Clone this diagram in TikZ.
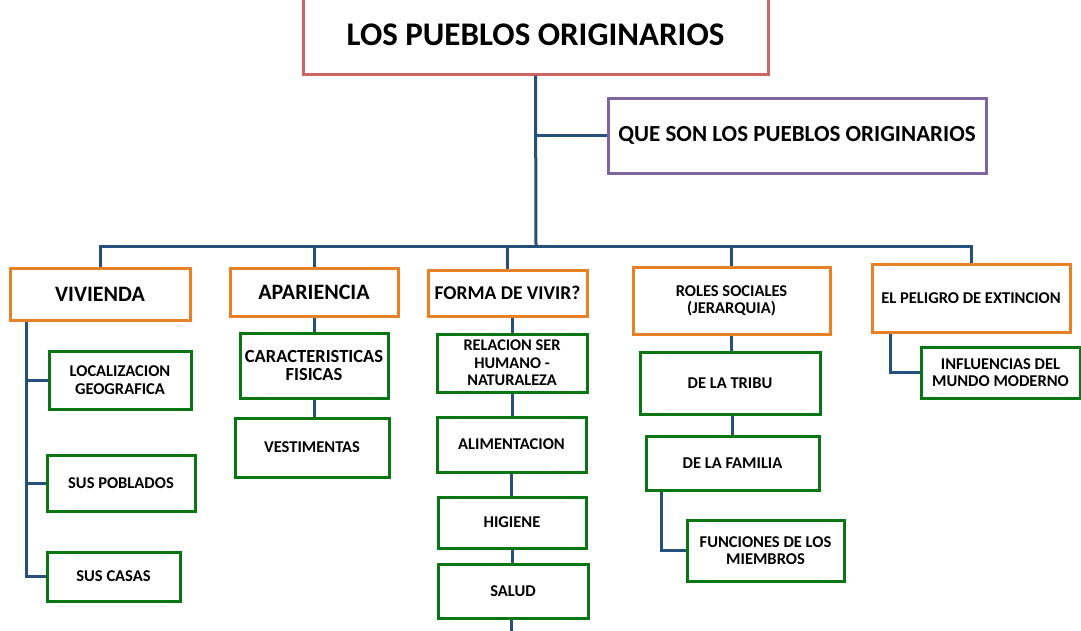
\documentclass[tikz,border=0pt]{standalone}
\usepackage{fontspec}
\setmainfont{Carlito}
\usepackage{tikz}

\definecolor{titlered}{RGB}{205,102,98}
\definecolor{quepurple}{RGB}{128,100,160}
\definecolor{toporange}{RGB}{232,128,38}
\definecolor{subgreen}{RGB}{8,118,18}
\definecolor{linkblue}{RGB}{38,80,124}

\begin{document}
\begin{tikzpicture}[
      x = 1pt, y = -1pt,
      every node/.style = {
        rectangle, draw, line width = 3pt, inner sep = 0pt, text = black,
        align = center, font = \bfseries\fontsize{16.5}{17.3}\selectfont},
      every path/.style = {linkblue, line width = 3pt},
      mainbox/.style = {draw = titlered, font = \bfseries\fontsize{33}{36}\selectfont},
      quebox/.style = {draw = quepurple, font = \bfseries\fontsize{23}{26}\selectfont},
      topicbox/.style = {draw = toporange},
      itembox/.style = {draw = subgreen}
      ]
    \useasboundingbox (0,0) rectangle (1081,630);

    \node[mainbox, minimum width = 465pt, minimum height = 78pt] (title) at (535.5,35) {LOS PUEBLOS ORIGINARIOS};
    \node[quebox, minimum width = 378pt, minimum height = 75pt] (que) at (797,135.5) {QUE SON LOS PUEBLOS ORIGINARIOS};

    % temas
    \node[topicbox, minimum width = 180pt, minimum height = 52pt, font = \bfseries\fontsize{22}{24}\selectfont] (vivienda) at (100,294) {VIVIENDA};
    \node[topicbox, minimum width = 168pt, minimum height = 48pt, font = \bfseries\fontsize{22}{24}\selectfont] (apariencia) at (314,292) {APARIENCIA};
    \node[topicbox, minimum width = 159pt, minimum height = 46pt, font = \bfseries\fontsize{19.5}{22}\selectfont] (forma) at (507.5,293) {FORMA DE VIVIR?};
    \node[topicbox, minimum width = 197pt, minimum height = 67pt] (roles) at (731.5,300.5) {ROLES SOCIALES\\(JERARQUIA)};
    \node[topicbox, minimum width = 198pt, minimum height = 68pt] (peligro) at (971,298.5) {EL PELIGRO DE EXTINCION};

    % vivienda
    \node[itembox, minimum width = 142pt, minimum height = 58pt] (loc) at (120,380) {LOCALIZACION\\GEOGRAFICA};
    \node[itembox, minimum width = 148pt, minimum height = 56pt] (pob) at (121,483) {SUS POBLADOS};
    \node[itembox, minimum width = 133pt, minimum height = 49pt] (casas) at (113.5,576.5) {SUS CASAS};

    % apariencia
    \node[itembox, minimum width = 148pt, minimum height = 65pt, font = \bfseries\fontsize{18.5}{17.7}\selectfont] (caract) at (314,365.5) {CARACTERISTICAS\\FISICAS};
    \node[itembox, minimum width = 154pt, minimum height = 59pt] (vest) at (312,447.5) {VESTIMENTAS};

    % forma de vivir
    \node[itembox, minimum width = 150pt, minimum height = 58pt, font = \bfseries\fontsize{16.3}{17.5}\selectfont] (relacion) at (512,363) {RELACION SER\\HUMANO -\\NATURALEZA};
    \node[itembox, minimum width = 149pt, minimum height = 55pt] (alim) at (511.5,444.5) {ALIMENTACION};
    \node[itembox, minimum width = 148pt, minimum height = 51pt] (hig) at (512,522.5) {HIGIENE};
    \node[itembox, minimum width = 150pt, minimum height = 54pt] (salud) at (513,591) {SALUD};

    % roles sociales
    \node[itembox, minimum width = 180pt, minimum height = 62pt] (tribu) at (730,383) {DE LA TRIBU};
    \node[itembox, minimum width = 173pt, minimum height = 54pt] (familia) at (732.5,463) {DE LA FAMILIA};
    \node[itembox, minimum width = 157pt, minimum height = 61pt] (funciones) at (765.5,550.5) {FUNCIONES DE LOS\\MIEMBROS};

    % peligro
    \node[itembox, minimum width = 159pt, minimum height = 51pt] (influencias) at (1000.5,372.5) {INFLUENCIAS DEL\\MUNDO MODERNO};

    \coordinate (hub) at (536,246);
    \coordinate (vspine) at ([xshift=18pt]vivienda.south west);
    \coordinate (tail) at (511,640);

    \draw (title.south) -- (hub);
    \draw (title.south |- que.west) -- (que.west);
    \draw (vivienda.north) |- (hub) -| (peligro.north);
    \draw (apariencia.north) -- (apariencia.north |- hub);
    \draw (forma.north) -- (forma.north |- hub);
    \draw (roles.north) -- (roles.north |- hub);

    \draw (vspine) |- (casas.west);
    \draw (vspine |- loc.west) -- (loc.west);
    \draw (vspine |- pob.west) -- (pob.west);

    \draw (caract.north) -- (caract.north |- apariencia.south);
    \draw (caract.south) -- (caract.south |- vest.north);

    \draw (relacion.north) -- (relacion.north |- forma.south);
    \draw (relacion.south) -- (relacion.south |- alim.north);
    \draw (alim.south) -- (alim.south |- hig.north);
    \draw (hig.south) -- (hig.south |- salud.north);
    \draw (salud.south -| tail) -- (tail);

    \draw (roles.south) -- (roles.south |- tribu.north);
    \draw (familia.north) -- (familia.north |- tribu.south);
    \draw ([xshift=17pt]familia.south west) |- (funciones.west);

    \draw ([xshift=20pt]peligro.south west) |- (influencias.west);
  \end{tikzpicture}
\end{document}
